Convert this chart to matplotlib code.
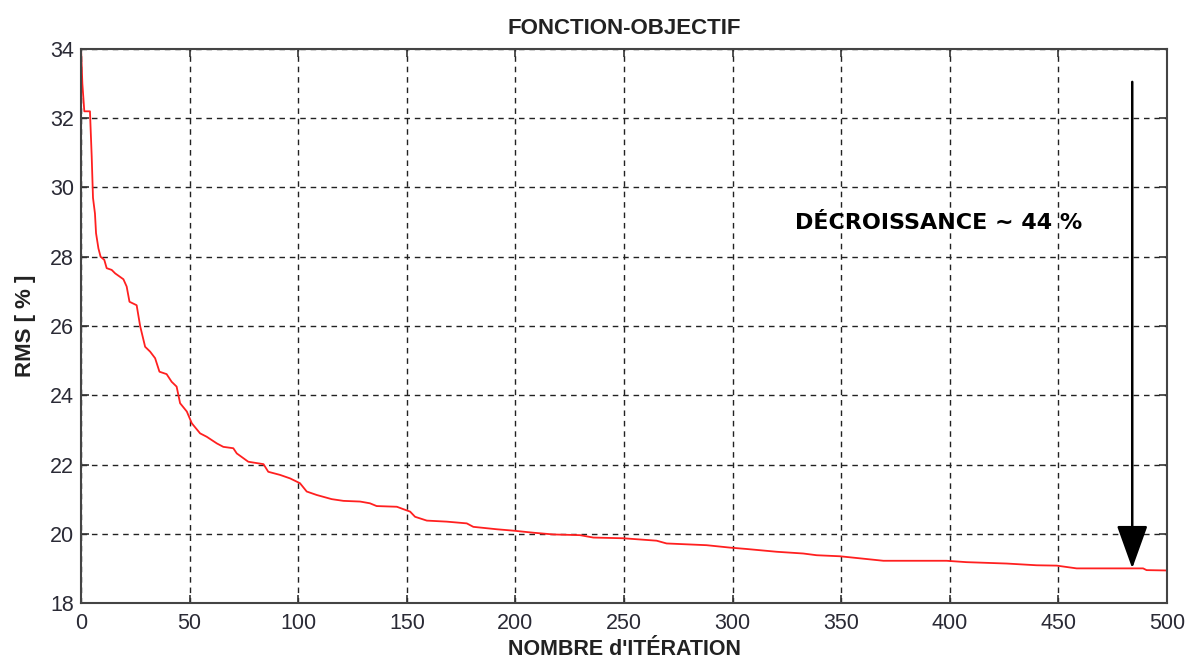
import matplotlib
matplotlib.use("Agg")
import matplotlib.pyplot as plt
from matplotlib import font_manager

# Objective function history: RMS (%) versus iteration number
iterations = [0, 0.6, 1.5, 4.1, 4.9, 5.5, 6.4, 6.9, 8, 9, 10.7, 11.8, 14.1, 15.7,
              19.5, 21, 22.3, 25.6, 27.2, 29.5, 31.8, 34.1, 36.1, 39.4, 41.7, 44,
              45.6, 48.7, 51, 54.8, 57.9, 62.5, 65.5, 70.1, 71.7, 77, 84, 86.2,
              91.6, 96.2, 100.8, 103.9, 108.5, 115.4, 120.8, 128.5, 133, 136.1,
              145.4, 148.4, 151.5, 153.8, 159.2, 168.4, 177.6, 180.6, 191.4, 199,
              208.3, 217.5, 229.7, 235.9, 249.7, 265, 269.6, 288, 298.8, 306.5,
              320.3, 332.5, 338.7, 349.4, 363.3, 369.4, 398.5, 407.7, 426.2, 440,
              449.2, 458.4, 489, 490.6, 500]
rms = [34.0, 33.0, 32.2, 32.2, 30.9, 29.7, 29.25, 28.68, 28.24, 28.0, 27.91, 27.67,
       27.62, 27.52, 27.35, 27.14, 26.7, 26.6, 26.0, 25.4, 25.26, 25.07, 24.68,
       24.61, 24.39, 24.25, 23.77, 23.53, 23.19, 22.9, 22.8, 22.61, 22.51, 22.47,
       22.32, 22.08, 22.01, 21.79, 21.70, 21.6, 21.46, 21.22, 21.12, 21.0, 20.95,
       20.93, 20.88, 20.80, 20.78, 20.71, 20.64, 20.49, 20.38, 20.35, 20.30, 20.2,
       20.13, 20.09, 20.03, 19.98, 19.96, 19.89, 19.87, 19.80, 19.72, 19.67, 19.60,
       19.56, 19.48, 19.43, 19.38, 19.35, 19.26, 19.22, 19.22, 19.18, 19.14, 19.09,
       19.08, 19.0, 19.0, 18.95, 18.94]

x_ticks = list(range(0, 501, 50))
y_ticks = list(range(18, 35, 2))

arrow_x = 484
arrow_top = 33.05
arrow_bottom = 19.0
decrease_label = "DÉCROISSANCE ~ 44 %"

available = {f.name for f in font_manager.fontManager.ttflist}
narrow = "Liberation Sans Narrow" if "Liberation Sans Narrow" in available else "Liberation Sans"
plt.rcParams["font.family"] = [narrow, "DejaVu Sans"]

fig = plt.figure(figsize=(11.85, 6.62), dpi=100)
ax = fig.add_axes([0.0684, 0.0891, 0.9164, 0.8369])

ax.plot(iterations, rms, color="#ff2020", lw=1.3)

ax.set_xlim(0, 500)
ax.set_ylim(18, 34)
ax.set_xticks(x_ticks)
ax.set_yticks(y_ticks)
ax.tick_params(direction="in", top=True, right=True, length=6, width=1.2,
               labelsize=15.5, colors="#333333", labelcolor="#2a2a35", pad=5)
ax.tick_params(axis="x", pad=7)
ax.grid(True, color="#222222", linestyle=(0, (4, 3.5)), lw=1.0)
for s in ax.spines.values():
    s.set_color("#444444")
    s.set_linewidth(1.5)

ax.set_title("FONCTION-OBJECTIF", fontsize=16, fontweight="bold", pad=11, color="#222222")
ax.set_xlabel("NOMBRE d'ITÉRATION", fontsize=15.5, fontweight="bold", labelpad=4, color="#222222")
ax.set_ylabel("RMS [ % ]", fontsize=16, fontweight="bold", labelpad=10, color="#222222")

ax.annotate("", xy=(arrow_x, arrow_bottom), xytext=(arrow_x, arrow_top),
            arrowprops=dict(arrowstyle="-|>,head_width=0.97,head_length=2.7",
                            color="black", lw=1.8, shrinkA=0, shrinkB=0))
ax.text(395, 28.97, decrease_label, ha="center", va="center", fontsize=16,
        fontweight="bold", family=["DejaVu Sans"], color="black")

fig.savefig("out.png", dpi=100)
